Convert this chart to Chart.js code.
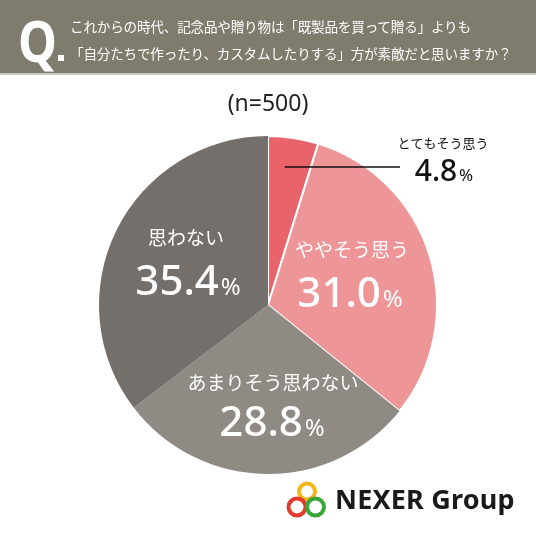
<!DOCTYPE html>
<html>
<head>
<meta charset="utf-8">
<script src="https://cdn.jsdelivr.net/npm/chart.js@4"></script>
<style>
  body { margin: 0; background: #fff; width: 536px; height: 533px; overflow: hidden; font-family: "Noto Sans CJK JP", sans-serif; }
  #wrap { position: relative; width: 536px; height: 533px; }
  #head { position: absolute; left: 0; top: 0; width: 536px; height: 73px; background: #7f7b6d; border-bottom: 2px solid #c9c7bf; }
  #q { position: absolute; left: 18px; top: 0px; color: #fff; font: 700 58px "Noto Sans", sans-serif; transform: scaleX(0.85); transform-origin: left; }
  #qdot { position: absolute; left: 58px; top: 55px; width: 6px; height: 6px; background: #fff; }
  #qt { position: absolute; left: 70px; top: 13px; color: #fff; font-size: 13.6px; line-height: 27px; letter-spacing: -0.2px; white-space: nowrap; }
  #n { position: absolute; left: 0; width: 536px; top: 86px; text-align: center; font: 400 23px "Noto Sans", sans-serif; color: #222; }
  #c { position: absolute; left: 0; top: 0; }
  #logo { position: absolute; left: 286px; top: 481px; }
  #logotxt { position: absolute; left: 335px; top: 480px; font: 700 27px "Noto Sans", sans-serif; color: #1a1a1a; letter-spacing: 0.2px; }
</style>
</head>
<body>
<div id="wrap">
  <canvas id="c" width="536" height="533"></canvas>
  <div id="head">
    <div id="q">Q</div><div id="qdot"></div>
    <div id="qt">これからの時代、記念品や贈り物は「既製品を買って贈る」よりも<br>「自分たちで作ったり、カスタムしたりする」方が素敵だと思いますか？</div>
  </div>
  <div id="n">(n=500)</div>
  <svg id="logo" width="42" height="38" viewBox="0 0 42 38">
    <circle cx="21" cy="10.5" r="8" fill="none" stroke="#f2b51c" stroke-width="4"/>
    <circle cx="11" cy="26" r="8.5" fill="none" stroke="#e23a2e" stroke-width="4"/>
    <circle cx="29.5" cy="26" r="8.5" fill="none" stroke="#3aa63a" stroke-width="4"/>
  </svg>
  <div id="logotxt">NEXER Group</div>
</div>
<script>
// === Data ===
const categories = ['とてもそう思う', 'ややそう思う', 'あまりそう思わない', '思わない'];
const values = [4.8, 31.0, 28.8, 35.4];
const colors = ['#e9636b', '#ee9598', '#8f8a84', '#746f6b'];

// label spots (text only)
const labelSpots = [
  { x: 443, y: 143, px: 444, py: 170, dark: true },
  { x: 352, y: 250, px: 350, py: 292 },
  { x: 273, y: 383, px: 272, py: 421 },
  { x: 186, y: 238, px: 188, py: 280 }
];

function drawPct(ctx, txt, x, y, big, small, color) {
  ctx.font = '400 ' + big + 'px "Noto Sans", sans-serif';
  const w1 = ctx.measureText(txt).width;
  ctx.font = '400 ' + small + 'px "Noto Sans", sans-serif';
  const w2 = ctx.measureText('%').width;
  let sx = x - (w1 + w2 + 2) / 2;
  ctx.fillStyle = color;
  ctx.textAlign = 'left';
  ctx.textBaseline = 'alphabetic';
  ctx.font = '500 ' + big + 'px "Noto Sans", sans-serif';
  ctx.fillText(txt, sx, y + big * 0.36);
  ctx.font = '400 ' + small + 'px "Noto Sans", sans-serif';
  ctx.fillText('%', sx + w1 + 2, y + big * 0.36);
}

const labelPlugin = {
  id: 'labels',
  afterDatasetsDraw(chart) {
    const ctx = chart.ctx;
    const arcs = chart.getDatasetMeta(0).data;
    ctx.save();
    // leader line for the small slice
    const a0 = arcs[0];
    const mid = (a0.startAngle + a0.endAngle) / 2;
    const lx = a0.x + Math.cos(mid) * a0.outerRadius * 0.82;
    ctx.strokeStyle = '#111';
    ctx.lineWidth = 1.5;
    ctx.beginPath();
    ctx.moveTo(lx - 4, 167);
    ctx.lineTo(400, 167);
    ctx.stroke();

    categories.forEach((c, i) => {
      const s = labelSpots[i];
      const col = s.dark ? '#111' : '#fff';
      ctx.fillStyle = col;
      ctx.textAlign = 'center';
      ctx.textBaseline = 'middle';
      ctx.font = (s.dark ? '400 13px' : '400 19px') + ' "Noto Sans CJK JP", sans-serif';
      ctx.fillText(c, s.x, s.y);
      if (s.dark) drawPct(ctx, values[i].toFixed(1), s.px, s.py, 30, 17, col);
      else drawPct(ctx, values[i].toFixed(1), s.px, s.py, 42, 24, col);
    });
    ctx.restore();
  }
};

new Chart(document.getElementById('c'), {
  type: 'pie',
  data: {
    labels: categories,
    datasets: [{
      data: values,
      backgroundColor: colors,
      borderColor: '#fff',
      borderWidth: [2, 2, 0, 0]
    }]
  },
  options: {
    responsive: false,
    animation: false,
    layout: { padding: { left: 98, right: 98, top: 135, bottom: 58 } },
    plugins: { legend: { display: false }, tooltip: { enabled: false } }
  },
  plugins: [labelPlugin]
});
</script>
</body>
</html>
